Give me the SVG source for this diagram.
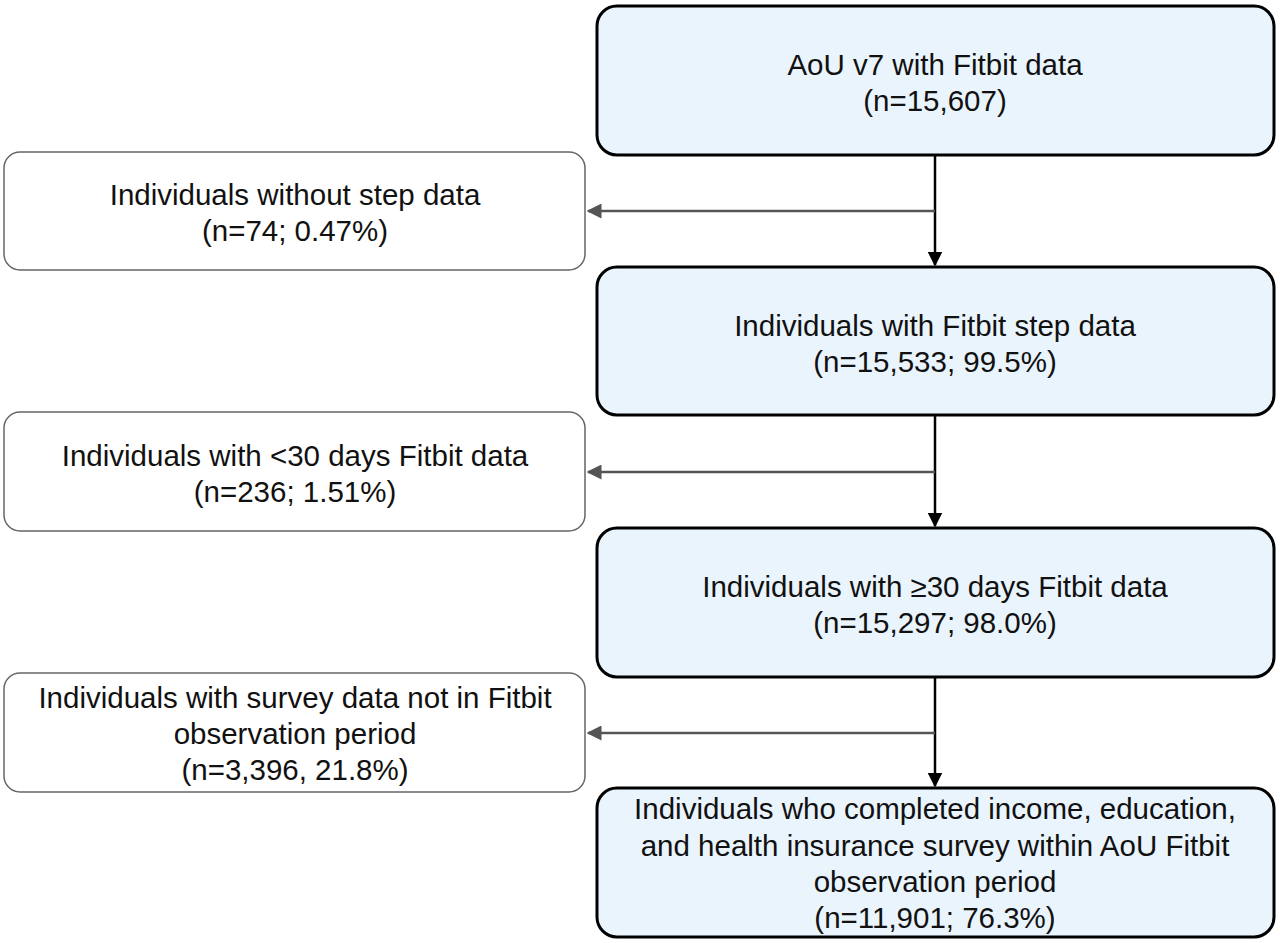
<svg xmlns="http://www.w3.org/2000/svg" width="1280" height="943" viewBox="0 0 1280 943">
<defs>
<style>
.m{fill:#eaf4fd;stroke:#000;stroke-width:3}
.s{fill:#fff;stroke:#666;stroke-width:1.5}
text{font-family:"Liberation Sans",Arial,sans-serif;font-size:29.5px;fill:#111;text-anchor:middle}
.v{stroke:#000;stroke-width:2.5;fill:none}
.h{stroke:#555;stroke-width:2.5;fill:none}
</style>
<marker id="ab" viewBox="0 0 10 10" refX="9" refY="5" markerWidth="6" markerHeight="6" orient="auto"><path d="M0,0L10,5L0,10z" fill="#000"/></marker>
<marker id="ag" viewBox="0 0 10 10" refX="9" refY="5" markerWidth="6" markerHeight="6" orient="auto"><path d="M0,0L10,5L0,10z" fill="#555"/></marker>
</defs>
<g id="connectors">
<path class="v" d="M935,155V265" marker-end="url(#ab)"/>
<path class="v" d="M935,415V526" marker-end="url(#ab)"/>
<path class="v" d="M935,677V786" marker-end="url(#ab)"/>
<path class="h" d="M935,211H588" marker-end="url(#ag)"/>
<path class="h" d="M935,472H588" marker-end="url(#ag)"/>
<path class="h" d="M935,733H588" marker-end="url(#ag)"/>
</g>
<g id="n1"><rect class="m" x="597" y="6" width="677" height="149" rx="20"/><text x="935" y="75">AoU v7 with Fitbit data</text><text x="935" y="111">(n=15,607)</text></g>
<g id="n2"><rect class="m" x="597" y="267" width="677" height="148" rx="20"/><text x="935" y="336">Individuals with Fitbit step data</text><text x="935" y="372">(n=15,533; 99.5%)</text></g>
<g id="n3"><rect class="m" x="597" y="528" width="677" height="149" rx="20"/><text x="935" y="597">Individuals with ≥30 days Fitbit data</text><text x="935" y="633">(n=15,297; 98.0%)</text></g>
<g id="n4"><rect class="m" x="597" y="788" width="677" height="149" rx="20"/><text x="935" y="819">Individuals who completed income, education,</text><text x="935" y="856">and health insurance survey within AoU Fitbit</text><text x="935" y="892">observation period</text><text x="935" y="928">(n=11,901; 76.3%)</text></g>
<g id="e1"><rect class="s" x="4" y="152" width="581" height="118" rx="16"/><text x="295" y="205">Individuals without step data</text><text x="295" y="241">(n=74; 0.47%)</text></g>
<g id="e2"><rect class="s" x="4" y="412" width="581" height="119" rx="16"/><text x="295" y="466">Individuals with &lt;30 days Fitbit data</text><text x="295" y="502">(n=236; 1.51%)</text></g>
<g id="e3"><rect class="s" x="4" y="673" width="581" height="119" rx="16"/><text x="295" y="708">Individuals with survey data not in Fitbit</text><text x="295" y="744">observation period</text><text x="295" y="780">(n=3,396, 21.8%)</text></g>
</svg>
